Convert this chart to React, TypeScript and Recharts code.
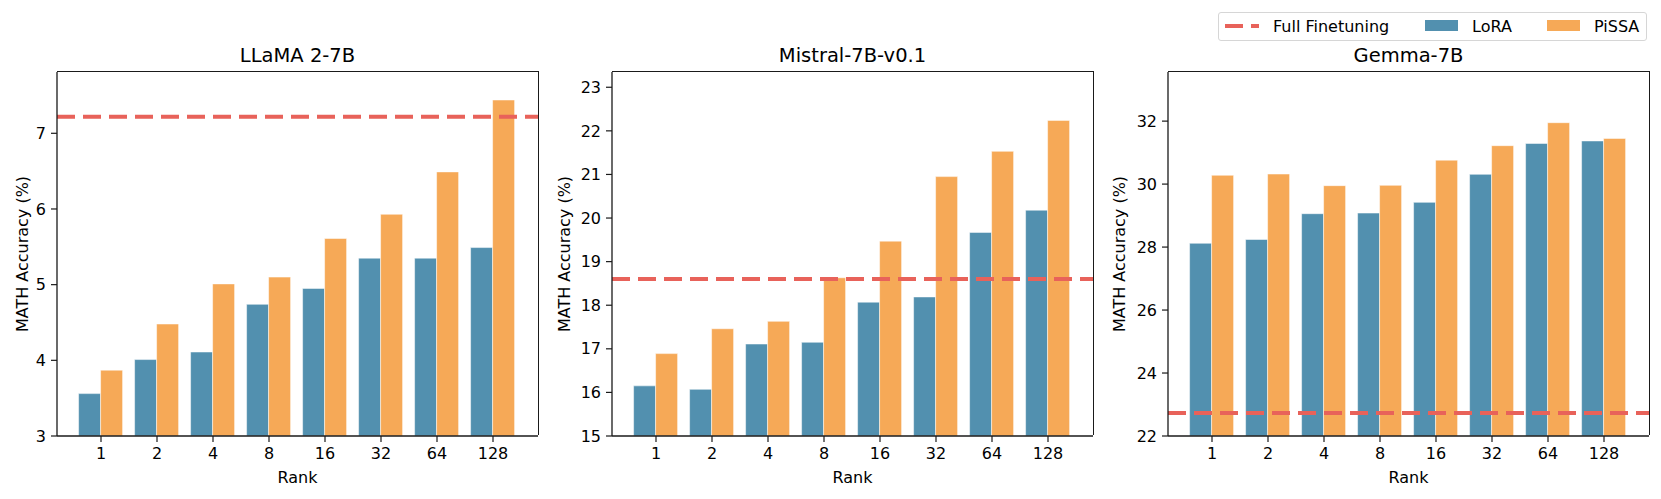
import { BarChart, Bar, XAxis, YAxis, ReferenceLine } from 'recharts';

const FONT = '"DejaVu Sans", "Liberation Sans", sans-serif';

const ranks = ['1', '2', '4', '8', '16', '32', '64', '128'];

const llamaLora = [3.56, 4.01, 4.11, 4.74, 4.95, 5.35, 5.35, 5.49];
const llamaPissa = [3.87, 4.48, 5.01, 5.1, 5.61, 5.93, 6.49, 7.44];
const llamaFull = 7.22;
const llamaTicks = [3, 4, 5, 6, 7];
const llamaDomain = [3, 7.81];

const mistralLora = [16.15, 16.07, 17.11, 17.15, 18.07, 18.19, 19.67, 20.18];
const mistralPissa = [16.89, 17.46, 17.63, 18.63, 19.47, 20.95, 21.53, 22.24];
const mistralFull = 18.6;
const mistralTicks = [15, 16, 17, 18, 19, 20, 21, 22, 23];
const mistralDomain = [15, 23.35];

const gemmaLora = [28.12, 28.24, 29.06, 29.08, 29.42, 30.31, 31.29, 31.37];
const gemmaPissa = [30.28, 30.32, 29.95, 29.96, 30.76, 31.22, 31.95, 31.45];
const gemmaFull = 22.73;
const gemmaTicks = [22, 24, 26, 28, 30, 32];
const gemmaDomain = [22, 33.56];

const LORA = '#5290af';
const PISSA = '#f6a957';
const FULL = '#e8625a';
const SPINE = '#1a1a1a';

const BOX_W = 548;
const PLOT_L = 57;
const PLOT_T = 72;
const PLOT_W = 481;
const PLOT_H = 364;

const tickStyle = { fill: '#000', fontSize: 16, fontFamily: FONT };

function Panel({ title, left, lora, pissa, full, domain, ticks, labelX }: any) {
  const data = ranks.map((r, i) => ({ rank: r, LoRA: lora[i], PiSSA: pissa[i] }));
  return (
    <div style={{ position: 'absolute', left, top: 0, width: BOX_W, height: 499 }}>
      <BarChart
        width={BOX_W}
        height={499}
        data={data}
        margin={{ top: PLOT_T, right: BOX_W - PLOT_L - PLOT_W, bottom: 499 - PLOT_T - PLOT_H - 30, left: 7 }}
        barCategoryGap="10%"
        barGap={0}
      >
        <XAxis
          dataKey="rank"
          height={30}
          interval={0}
          padding={{ left: 16, right: 17 }}
          tickSize={6}
          tickMargin={6}
          tick={tickStyle}
          axisLine={{ stroke: SPINE, strokeWidth: 1.3 }}
          tickLine={{ stroke: SPINE, strokeWidth: 1.2 }}
        />
        <YAxis
          type="number"
          domain={domain}
          ticks={ticks}
          allowDataOverflow
          width={50}
          tickSize={6}
          tickMargin={5}
          tick={tickStyle}
          axisLine={{ stroke: SPINE, strokeWidth: 1.3 }}
          tickLine={{ stroke: SPINE, strokeWidth: 1.2 }}
        />
        <Bar dataKey="LoRA" fill={LORA} stroke="#ffffff" strokeOpacity={0.5} strokeWidth={1} isAnimationActive={false} />
        <Bar dataKey="PiSSA" fill={PISSA} stroke="#ffffff" strokeOpacity={0.5} strokeWidth={1} isAnimationActive={false} />
        <ReferenceLine y={full} stroke={FULL} strokeWidth={4} strokeDasharray="18 8" />
      </BarChart>
      {/* top and right spines of the axes frame */}
      <div
        style={{
          position: 'absolute',
          left: PLOT_L,
          top: PLOT_T - 0.65,
          width: PLOT_W + 0.65,
          height: PLOT_H,
          borderTop: `1.3px solid ${SPINE}`,
          borderRight: `1.3px solid ${SPINE}`,
          boxSizing: 'border-box',
          pointerEvents: 'none',
        }}
      />
      <div style={{ position: 'absolute', left: PLOT_L + PLOT_W / 2, top: 44, transform: 'translateX(-50%)', fontFamily: FONT, fontSize: 19.5, whiteSpace: 'nowrap', color: '#000' }}>
        {title}
      </div>
      <div style={{ position: 'absolute', left: PLOT_L + PLOT_W / 2, top: 468, transform: 'translateX(-50%)', fontFamily: FONT, fontSize: 16, whiteSpace: 'nowrap', color: '#000' }}>
        Rank
      </div>
      <div style={{ position: 'absolute', left: labelX, top: 254, transform: 'translate(-50%, -50%) rotate(-90deg)', fontFamily: FONT, fontSize: 16, whiteSpace: 'nowrap', color: '#000' }}>
        MATH Accuracy (%)
      </div>
    </div>
  );
}

function LegendBox() {
  const text = { position: 'absolute' as const, top: 3.5, fontFamily: FONT, fontSize: 16, whiteSpace: 'nowrap' as const, color: '#000' };
  return (
    <div style={{ position: 'absolute', left: 1218, top: 12, width: 427, height: 27, border: '1px solid #d6d6d6', borderRadius: 3, background: '#fff' }}>
      <svg style={{ position: 'absolute', left: 6, top: 0 }} width={36} height={27}>
        <line x1={0} y1={13} x2={34} y2={13} stroke={FULL} strokeWidth={4} strokeDasharray="18 8" />
      </svg>
      <div style={{ ...text, left: 54 }}>Full Finetuning</div>
      <div style={{ position: 'absolute', left: 206, top: 7, width: 33, height: 11, background: LORA }} />
      <div style={{ ...text, left: 253 }}>LoRA</div>
      <div style={{ position: 'absolute', left: 328, top: 7, width: 33, height: 11, background: PISSA }} />
      <div style={{ ...text, left: 375 }}>PiSSA</div>
    </div>
  );
}

export default function App() {
  return (
    <div style={{ position: 'absolute', left: 0, top: 0, width: 1661, height: 499, background: '#fff', overflow: 'hidden' }}>
      <Panel title="LLaMA 2-7B" left={0} lora={llamaLora} pissa={llamaPissa} full={llamaFull} domain={llamaDomain} ticks={llamaTicks} labelX={22} />
      <Panel title="Mistral-7B-v0.1" left={555} lora={mistralLora} pissa={mistralPissa} full={mistralFull} domain={mistralDomain} ticks={mistralTicks} labelX={8.5} />
      <Panel title="Gemma-7B" left={1111} lora={gemmaLora} pissa={gemmaPissa} full={gemmaFull} domain={gemmaDomain} ticks={gemmaTicks} labelX={8} />
      <LegendBox />
    </div>
  );
}
